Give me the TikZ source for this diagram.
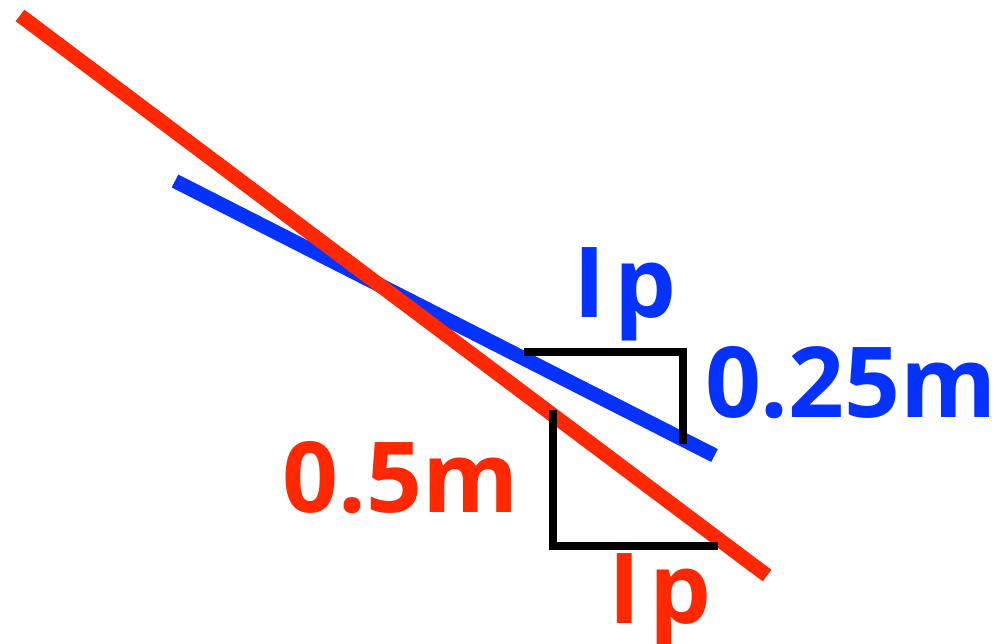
\documentclass[tikz,border=0pt]{standalone}
\usepackage{fontspec}
\setmainfont{Open Sans}
\definecolor{myblue}{RGB}{5,50,255}
\definecolor{myred}{RGB}{255,40,0}
\tikzset{
  redline/.style={draw=myred,line width=14.5pt},
  blueline/.style={draw=myblue,line width=14.5pt},
  marker/.style={draw=black,line width=7.5pt},
  lbl/.style={anchor=base,inner sep=0pt,font=\fontsize{98}{98}\selectfont\bfseries}
}
\begin{document}
\begin{tikzpicture}[x=1pt,y=-1pt]
\useasboundingbox[fill=white] (0,0) rectangle (1004,644);
\coordinate (r1) at (20,15.5);
\coordinate (r2) at (767,575.5);
\coordinate (b1) at (175,181);
\coordinate (b2) at (714.5,455.5);
\coordinate (t1) at (524,352);
\coordinate (t2) at (683,352);
\coordinate (t3) at (683,444);
\coordinate (u1) at (553,410);
\coordinate (u2) at (553,546);
\coordinate (u3) at (718,546);
\draw[blueline] (b1) -- (b2);
\draw[redline] (r1) -- (r2);
\draw[marker] (t1) -- ([xshift=3.75pt]t2);
\draw[marker] (t2) -- (t3);
\draw[marker] (u1) -- (u2);
\draw[marker] ([xshift=-3.75pt]u2) -- (u3);
\node[lbl,text=myblue] (lb1) at (625,317) {I\kern8pt p};
\node[lbl,text=myblue] (lb2) at (851,417) {0.25m};
\node[lbl,text=myred] (lr1) at (401,512) {0.5m};
\node[lbl,text=myred] (lr2) at (660,623) {I\kern8pt p};
\end{tikzpicture}
\end{document}
